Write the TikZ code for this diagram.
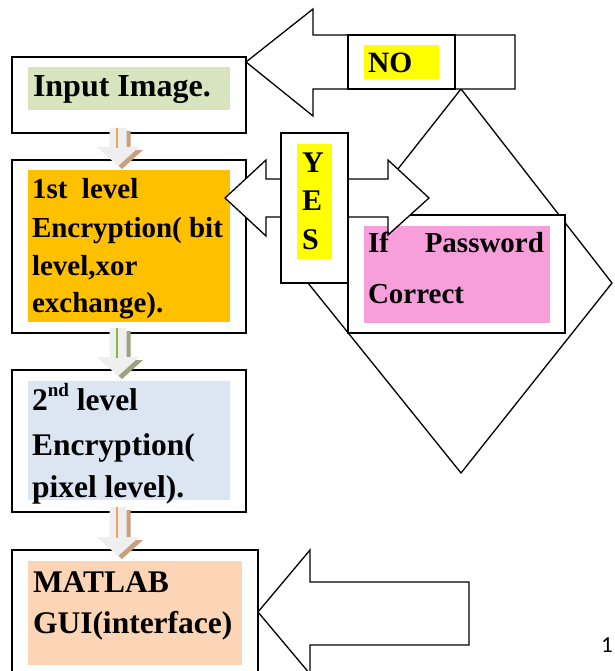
\documentclass[tikz,border=0pt]{standalone}
\usepackage{fontspec}
\setmainfont{Liberation Serif}
\newfontfamily\pagefont{Carlito}
\usetikzlibrary{calc}
\definecolor{cgreen}{HTML}{D7E4BD}
\definecolor{corange}{HTML}{FFC000}
\definecolor{cblue}{HTML}{DCE6F2}
\definecolor{cpeach}{HTML}{FBD5B5}
\definecolor{cpink}{HTML}{F79FDB}
\definecolor{cyel}{HTML}{FFFF00}
\definecolor{ctan}{HTML}{C9A07C}
\definecolor{colive}{HTML}{9CA37E}
\definecolor{clineo}{HTML}{F2A35E}
\definecolor{clineg}{HTML}{8CB34A}
\definecolor{carrow}{HTML}{EFEFEF}
\newcommand\flowarr[4]{%
  \foreach \dx/\dy/\col in {4pt/-3pt/#3, 0pt/0pt/carrow} {
    \fill[\col] let \p1=(#1.south west), \p2=(#2.north west),
      \p3=({\x1+106pt+\dx},{\y1+5pt+\dy}), \p4=({\x1+106pt+\dx},{\y2-6pt+\dy}) in
      ({\x3-8.5pt},\y3) -- ({\x3+8.5pt},\y3) -- ({\x3+8.5pt},{\y4+19pt}) -- ({\x3+21pt},{\y4+19pt})
      -- (\x4,\y4) -- ({\x3-21pt},{\y4+19pt}) -- ({\x3-8.5pt},{\y4+19pt}) -- cycle;
  }
  \draw[#4, line width=1.1pt] let \p1=(#1.south west), \p2=(#2.north west) in
    ({\x1+105pt},{\y1+5pt}) -- ({\x1+105pt},{\y2+12pt});
}
\begin{document}
\begin{tikzpicture}[x=1pt,y=-1pt,
  frame/.style={draw=black, line width=1.3pt, fill=white, inner sep=0pt, outer sep=0pt, anchor=north west},
  tint/.style={draw=none, inner sep=0pt, outer sep=0pt, anchor=north west},
  blockarrow/.style={draw=black, line width=1.3pt, fill=white, line join=miter},
  txt/.style={inner sep=0pt, outer sep=0pt, anchor=base west}]
\useasboundingbox (0,0) rectangle (614,671);
\clip (0,0) rectangle (614,671);
\fill[white] (0,0) rectangle (614,671);

% ---------- left column ----------
\node[frame, minimum width=234pt, minimum height=76pt] (input) at (12,57) {};
\node[tint, fill=cgreen, minimum width=202pt, minimum height=43pt] (inputbg) at (28,67) {};
\node[txt, font=\bfseries\fontsize{32}{38}\selectfont] (inputtxt) at (33,97) {Input Image.};

\node[frame, minimum width=234pt, minimum height=173pt] (enc1) at (12,160) {};
\node[tint, fill=corange, minimum width=202pt, minimum height=152pt] (enc1bg) at (28,170) {};
\begin{scope}[every node/.style={txt, font=\bfseries\fontsize{29}{35}\selectfont}]
\node (enc1a) at (32,198) {1st\hspace*{0.5em}level};
\node (enc1b) at (32,237) {Encryption( bit};
\node (enc1c) at (32,275) {level,xor};
\node (enc1d) at (32,312) {exchange).};
\end{scope}

\node[frame, minimum width=234pt, minimum height=142pt] (enc2) at (12,370) {};
\node[tint, fill=cblue, minimum width=202pt, minimum height=119pt] (enc2bg) at (28,381) {};
\begin{scope}[every node/.style={txt, font=\bfseries\fontsize{31.5}{37}\selectfont}]
\node (enc2a) at (32,410) {2\raisebox{0.42em}{\fontsize{19}{20}\selectfont nd} level};
\node (enc2b) at (32,455) {Encryption(};
\node (enc2c) at (32,497) {pixel level).};
\end{scope}

\node[frame, minimum width=246pt, minimum height=140pt] (gui) at (12,550) {};
\node[tint, fill=cpeach, minimum width=214pt, minimum height=104pt] (guibg) at (28,561) {};
\begin{scope}[every node/.style={txt, font=\bfseries\fontsize{31.5}{38}\selectfont}]
\node (guia) at (33,592) {MATLAB};
\node (guib) at (33,633) {GUI(interface)};
\end{scope}

\flowarr{input}{enc1}{ctan}{clineo}
\flowarr{enc1}{enc2}{colive}{clineg}
\flowarr{enc2}{gui}{ctan}{clineo}

% ---------- decision diamond ----------
\draw[line width=1.3pt, line join=miter] (461,89) coordinate (dtop) -- (612,283) coordinate (dright)
  -- (461,473) coordinate (dbottom) -- (308,283) coordinate (dleft) -- cycle;

% NO arrow
\draw[blockarrow] (246,62) -- (313,9) -- (313,35) -- (515,35) -- (515,89) -- (313,89) -- (313,116) -- cycle;
\node[frame, minimum width=107pt, minimum height=54pt] (nobox) at (348,35) {};
\node[tint, fill=cyel, minimum width=75pt, minimum height=34pt] (nobg) at (364,45) {};
\node[txt, font=\bfseries\fontsize{29.5}{35}\selectfont] (notxt) at (368,73) {NO};

% password box
\node[frame, minimum width=217pt, minimum height=118pt] (pwd) at (348,215) {};
\node[tint, fill=cpink, minimum width=186pt, minimum height=97pt] (pwdbg) at (364,226) {};

% YES double arrow
\draw[blockarrow] (225,198) -- (266,160) -- (266,179) -- (388,179) -- (388,160) -- (429,198)
  -- (388,235) -- (388,217) -- (266,217) -- (266,236) -- cycle;
\node[frame, minimum width=67pt, minimum height=150pt] (yesbox) at (281,133) {};
\node[tint, fill=cyel, minimum width=35pt, minimum height=115pt] (yesbg) at (297,144) {};
\begin{scope}[every node/.style={txt, font=\bfseries\fontsize{30}{36}\selectfont}]
\node (yesy) at (302,172) {Y};
\node (yese) at (302,210) {E};
\node (yess) at (302,249) {S};
\end{scope}

\begin{scope}[every node/.style={txt, font=\bfseries\fontsize{29}{35}\selectfont}]
\node (pwda) at (368,252) {\hbox to 176pt{If\hfill Password}};
\node (pwdb) at (368,303) {Correct};
\end{scope}

% bottom arrow into GUI
\draw[blockarrow] (258,612) -- (310,550) -- (310,582) -- (469,582) -- (469,645) -- (310,645) -- (310,674) -- cycle;

% page number
\node[txt, font=\pagefont\fontsize{23}{28}\selectfont] (pagenum) at (601,652) {1};
\end{tikzpicture}
\end{document}
